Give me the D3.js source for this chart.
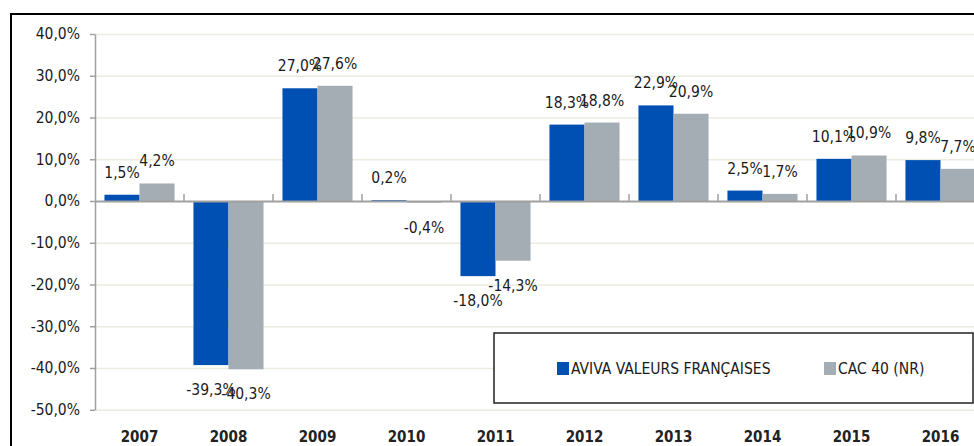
<!DOCTYPE html>
<html>
<head>
<meta charset="utf-8">
<script src="https://cdn.jsdelivr.net/npm/d3@7"></script>
<style>
  body { margin: 0; background: #fff; }
  svg text { font-family: "Liberation Sans Narrow", "DejaVu Sans Condensed", sans-serif; fill: #1a1a1a; }
  .axis text { font-size: 15.5px; }
  .xaxis text { font-size: 15px; font-weight: bold; fill: #222; }
  .grid line { stroke: #ecebdf; stroke-width: 1.5; }
  .grid .domain { display: none; }
  .label { font-size: 15.5px; text-anchor: middle; }
  .legend-text { font-size: 15.5px; }
</style>
</head>
<body>
<div id="chart"></div>
<script>
const years = ["2007", "2008", "2009", "2010", "2011", "2012", "2013", "2014", "2015", "2016"];
const aviva = [1.5, -39.3, 27.0, 0.2, -18.0, 18.3, 22.9, 2.5, 10.1, 9.8];
const cac40 = [4.2, -40.3, 27.6, -0.4, -14.3, 18.8, 20.9, 1.7, 10.9, 7.7];
const yTicks = [-50, -40, -30, -20, -10, 0, 10, 20, 30, 40];

const series = [
  { key: "aviva", label: "AVIVA VALEURS FRANÇAISES", color: "#0050b4", values: aviva },
  { key: "cac", label: "CAC 40 (NR)", color: "#a4adb3", values: cac40 }
];

const W = 974, H = 446;
const plot = { left: 95, right: 985, top: 34, bottom: 409.75 };

const svg = d3.select("#chart").append("svg")
  .attr("width", W).attr("height", H);

// outer frame (runs off the right and bottom)
svg.append("rect")
  .attr("x", 11).attr("y", 14)
  .attr("width", 1000).attr("height", 500)
  .attr("fill", "none").attr("stroke", "#000").attr("stroke-width", 2);

const x0 = d3.scaleBand().domain(years).range([plot.left, plot.right]).padding(0);
const x1 = d3.scaleBand().domain(series.map(s => s.key)).range([0, x0.bandwidth()])
  .paddingInner(0).paddingOuter(0.27);
const y = d3.scaleLinear().domain([-50, 40]).range([plot.bottom, plot.top]);

// French style: comma decimal, plain hyphen for minus
const fmt = v => (v < 0 ? "-" : "") + Math.abs(v).toFixed(1).replace(".", ",") + "%";

// grid
svg.append("g").attr("class", "grid")
  .attr("transform", `translate(${plot.left},0)`)
  .call(d3.axisLeft(y).tickValues(yTicks.filter(t => t !== 0)).tickSize(-(W - plot.left)).tickFormat(""));

// y axis
const yAxis = svg.append("g").attr("class", "axis")
  .attr("transform", `translate(${plot.left},0)`)
  .call(d3.axisLeft(y).tickValues(yTicks).tickSize(5).tickPadding(10).tickSizeOuter(0).tickFormat(fmt));
yAxis.select(".domain").attr("stroke", "#a0a0a0").attr("stroke-width", 1.5);
yAxis.selectAll(".tick line").attr("stroke", "#a0a0a0").attr("stroke-width", 1.5);

// bars
const rows = years.map((yr, i) => ({ year: yr, vals: series.map(s => ({ key: s.key, color: s.color, v: s.values[i] })) }));
const grp = svg.selectAll(".yr").data(rows).enter().append("g")
  .attr("transform", d => `translate(${x0(d.year)},0)`);

grp.selectAll("rect").data(d => d.vals).enter().append("rect")
  .attr("x", d => x1(d.key))
  .attr("width", x1.bandwidth())
  .attr("y", d => y(Math.max(0, d.v)))
  .attr("height", d => Math.abs(y(d.v) - y(0)))
  .attr("fill", d => d.color);

grp.selectAll("text").data(d => d.vals).enter().append("text")
  .attr("class", "label")
  .attr("x", d => x1(d.key) + x1.bandwidth() / 2)
  .attr("y", d => d.v >= 0 ? y(d.v) - 17 : y(d.v) + 30)
  .text(d => fmt(d.v));

// zero line with category ticks pointing up
const xAxis = svg.append("g").attr("class", "axis")
  .attr("transform", `translate(0,${y(0)})`)
  .call(d3.axisTop(x0).tickValues(years.slice(1)).tickSize(7).tickSizeOuter(0).tickFormat(""));
xAxis.select(".domain").attr("stroke", "#a0a0a0").attr("stroke-width", 2);
xAxis.selectAll(".tick line").attr("stroke", "#a0a0a0").attr("stroke-width", 1.5)
  .attr("transform", `translate(${-x0.bandwidth() / 2},0)`);

// year labels at the bottom
svg.append("g").attr("class", "xaxis")
  .attr("transform", `translate(0,${plot.bottom})`)
  .call(d3.axisBottom(x0).tickSize(0).tickPadding(22))
  .select(".domain").remove();

// legend
const lg = svg.append("g").attr("transform", "translate(494,333)");
lg.append("rect").attr("width", 479).attr("height", 70)
  .attr("fill", "#fff").attr("stroke", "#222").attr("stroke-width", 1.5);
const items = lg.selectAll(".li").data(series).enter().append("g")
  .attr("transform", (d, i) => `translate(${i === 0 ? 63 : 330},29)`);
items.append("rect").attr("width", 12).attr("height", 13).attr("fill", d => d.color);
items.append("text").attr("class", "legend-text").attr("x", 14).attr("y", 12).text(d => d.label);
</script>
</body>
</html>
